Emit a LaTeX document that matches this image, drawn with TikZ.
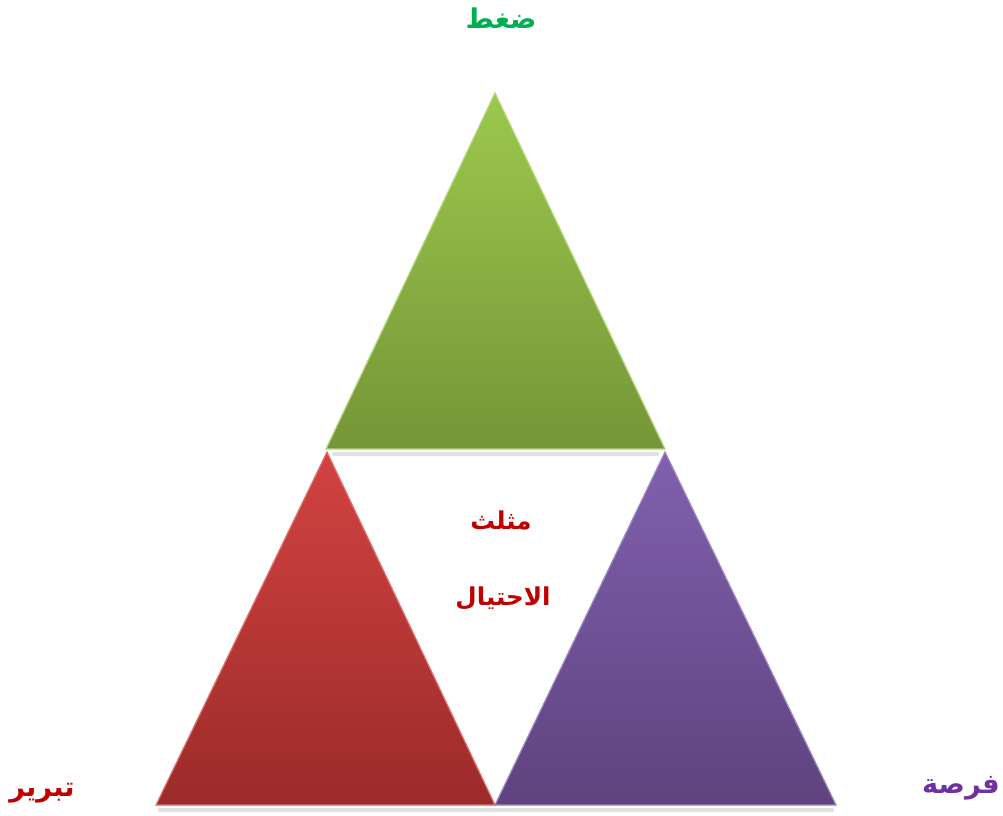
\documentclass[tikz,border=0pt]{standalone}
\usepackage{fontspec}
\TeXXeTstate=1
\newfontfamily\arabicfont[Script=Arabic]{DejaVu Sans}
\usetikzlibrary{calc}
\definecolor{pressuretop}{HTML}{9CC84D}
\definecolor{pressurebot}{HTML}{769538}
\definecolor{excusetop}{HTML}{D24342}
\definecolor{excusebot}{HTML}{9B2B29}
\definecolor{chancetop}{HTML}{8060AE}
\definecolor{chancebot}{HTML}{5E437E}
\definecolor{pressuretext}{HTML}{00B050}
\definecolor{excusetext}{HTML}{C00000}
\definecolor{chancetext}{HTML}{7030A0}
\tikzset{
    side/.style={
        top color=#1top, bottom color=#1bot,
        draw=#1top!75!white, line width=0.7pt, line join=miter,
    },
    baseshadow/.style={
        draw=black!12, line width=2.5pt, line cap=round,
    },
    cornerlabel/.style={
        font=\arabicfont\bfseries\fontsize{15.5}{18}\selectfont,
        text=#1text, inner sep=1pt,
    },
    midlabel/.style={
        font=\arabicfont\bfseries\fontsize{14}{17}\selectfont,
        text=excusetext, inner sep=1pt,
    },
}
\begin{document}
\begin{tikzpicture}[x=0.02cm, y=-0.02cm]
\useasboundingbox (0,0) rectangle (1003,815);

% corners of the three triangles
\coordinate (top) at (495,93);
\coordinate (midleft) at (326,449);
\coordinate (midright) at (665,449);
\coordinate (botleft) at (156,805);
\coordinate (botmid) at (495,805);
\coordinate (botright) at (836,805);

% soft shadows under the bases
\draw[baseshadow] ($(midleft)+(8,5)$) -- ($(midright)+(-8,5)$);
\draw[baseshadow] ($(botleft)+(4,5)$) -- ($(botright)+(-4,5)$);

% the triangles
\path[side=pressure] (top) -- (midright) -- (midleft) -- cycle;
\path[side=excuse] ($(midleft)+(1,3)$) -- (botmid) -- (botleft) -- cycle;
\path[side=chance] ($(midright)+(0,3)$) -- (botright) -- (botmid) -- cycle;

% labels
\node[cornerlabel=pressure] (pressure) at (501,18) {\beginR ضغط\endR};
\node[cornerlabel=excuse] (excuse) at (42,793) {\beginR تبرير\endR};
\node[cornerlabel=chance] (chance) at (961,788) {\beginR فرصة\endR};
\node[midlabel] (title1) at (501,520) {\beginR مثلث\endR};
\node[midlabel] (title2) at (503,598) {\beginR الاحتيال\endR};

\end{tikzpicture}
\end{document}
